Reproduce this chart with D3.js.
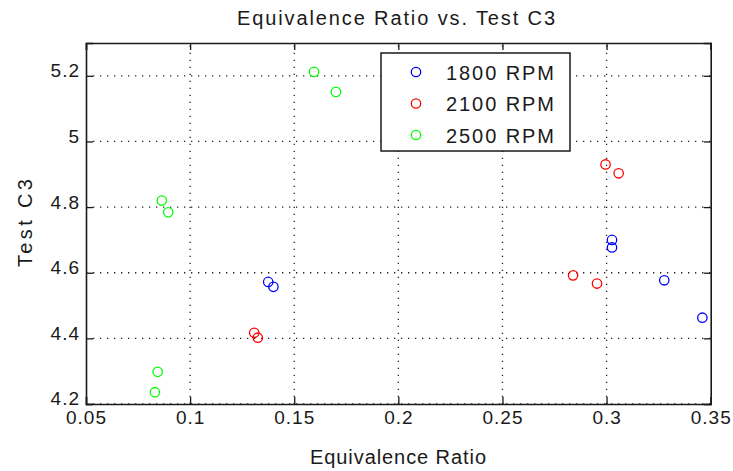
<!DOCTYPE html>
<html>
<head>
<meta charset="utf-8">
<script src="https://cdn.jsdelivr.net/npm/d3@7/dist/d3.min.js"></script>
<style>
  html, body { margin: 0; padding: 0; background: #fff; }
  svg text { font-family: "Liberation Sans", Arial, sans-serif; fill: #1a1a1a; }
</style>
</head>
<body>
<svg id="chart" width="733" height="471"></svg>
<script>
// Equivalence ratio (x) and Test C3 (y) per engine speed
const rpm1800X = [0.1375, 0.1400, 0.3026, 0.3026, 0.3277, 0.3460];
const rpm1800Y = [4.572, 4.557, 4.700, 4.677, 4.577, 4.463];
const rpm2100X = [0.1308, 0.1325, 0.2839, 0.2954, 0.2995, 0.3058];
const rpm2100Y = [4.417, 4.402, 4.592, 4.567, 4.930, 4.903];
const rpm2500X = [0.0831, 0.0844, 0.0864, 0.0895, 0.1595, 0.1700];
const rpm2500Y = [4.236, 4.298, 4.820, 4.784, 5.212, 5.151];

const seriesNames = ["1800 RPM", "2100 RPM", "2500 RPM"];
const seriesColors = ["#0000ff", "#ff0000", "#00ff00"];
const xTicks = [0.05, 0.1, 0.15, 0.2, 0.25, 0.3, 0.35];
const yTicks = [4.2, 4.4, 4.6, 4.8, 5, 5.2];

const series = [
  { name: seriesNames[0], color: seriesColors[0], xs: rpm1800X, ys: rpm1800Y },
  { name: seriesNames[1], color: seriesColors[1], xs: rpm2100X, ys: rpm2100Y },
  { name: seriesNames[2], color: seriesColors[2], xs: rpm2500X, ys: rpm2500Y }
];

const svg = d3.select("#chart");
const plotL = 86, plotR = 710.7, plotT = 43, plotB = 404;
const textFont = "'Liberation Sans', Arial, sans-serif";

const x = d3.scaleLinear().domain([0.05, 0.35]).range([plotL, plotR]);
const y = d3.scaleLinear().domain([4.2, 5.3]).range([plotB, plotT]);

// dotted grid
const grid = svg.append("g").attr("stroke", "#222").attr("stroke-width", 1.3)
  .attr("stroke-dasharray", "1.3,5.7");
grid.selectAll("line.vx").data(xTicks.slice(1, -1)).join("line")
  .attr("x1", d => x(d)).attr("x2", d => x(d))
  .attr("y1", plotB).attr("y2", plotT);
grid.selectAll("line.hy").data(yTicks).join("line")
  .attr("x1", plotL).attr("x2", plotR)
  .attr("y1", d => y(d)).attr("y2", d => y(d));

// axes with inward ticks on all four sides
const tickLen = 7;
const fmt = d => String(+d.toFixed(2));
const axB = svg.append("g").attr("transform", `translate(0,${plotB})`)
  .call(d3.axisBottom(x).tickValues(xTicks).tickSize(-tickLen).tickPadding(7).tickFormat(fmt));
const axT = svg.append("g").attr("transform", `translate(0,${plotT})`)
  .call(d3.axisTop(x).tickValues(xTicks).tickSize(-tickLen).tickFormat(""));
const axL = svg.append("g").attr("transform", `translate(${plotL},0)`)
  .call(d3.axisLeft(y).tickValues(yTicks).tickSize(-tickLen).tickPadding(6).tickFormat(fmt));
const axR = svg.append("g").attr("transform", `translate(${plotR},0)`)
  .call(d3.axisRight(y).tickValues(yTicks).tickSize(-tickLen).tickFormat(""));
[axB, axT, axL, axR].forEach(a => {
  a.select(".domain").attr("stroke", "#1a1a1a").attr("stroke-width", 1.6);
  a.selectAll(".tick line").attr("stroke", "#1a1a1a").attr("stroke-width", 1.3);
  a.selectAll("text").attr("font-size", 19).attr("fill", "#1a1a1a")
    .style("font-family", textFont).style("letter-spacing", "1px");
});
axB.selectAll("text").attr("dy", "0.71em");
axL.selectAll("text").attr("dy", "0.05em");

// points
series.forEach(s => {
  svg.append("g").selectAll("circle").data(s.xs.map((v, i) => [v, s.ys[i]])).join("circle")
    .attr("cx", d => x(d[0])).attr("cy", d => y(d[1])).attr("r", 4.7)
    .attr("fill", "none").attr("stroke", s.color).attr("stroke-width", 1.3);
});

// legend
const lg = svg.append("g");
lg.append("rect").attr("x", 381).attr("y", 53).attr("width", 189).attr("height", 98)
  .attr("fill", "#fff").attr("stroke", "#1a1a1a").attr("stroke-width", 1.5);
series.forEach((s, i) => {
  const cy = 72 + i * 31.5;
  lg.append("circle").attr("cx", 416).attr("cy", cy).attr("r", 4.7)
    .attr("fill", "none").attr("stroke", s.color).attr("stroke-width", 1.3);
  lg.append("text").attr("x", 446).attr("y", cy + 7.5).attr("font-size", 20)
    .attr("textLength", 108).attr("lengthAdjust", "spacing").text(s.name);
});

// titles
svg.append("text").attr("x", 396).attr("y", 25).attr("text-anchor", "middle")
  .attr("font-size", 20).attr("textLength", 318).attr("lengthAdjust", "spacing")
  .text("Equivalence Ratio vs. Test C3");
svg.append("text").attr("x", 398).attr("y", 464).attr("text-anchor", "middle")
  .attr("font-size", 20).attr("textLength", 176).attr("lengthAdjust", "spacing")
  .text("Equivalence Ratio");
svg.append("text").attr("transform", "translate(32,223) rotate(-90)").attr("text-anchor", "middle")
  .attr("font-size", 20).attr("textLength", 88).attr("lengthAdjust", "spacing")
  .text("Test C3");
</script>
</body>
</html>
